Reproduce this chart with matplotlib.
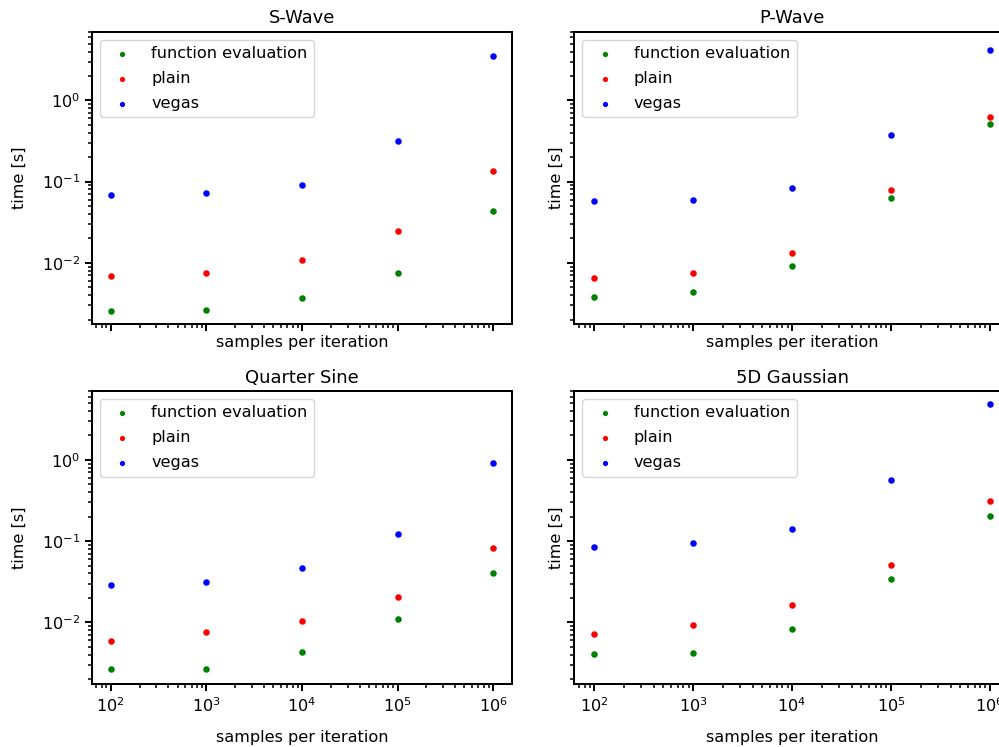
import numpy as np
import matplotlib
matplotlib.use('Agg')
import matplotlib.pyplot as plt

# samples per iteration
samples = [1e2, 1e3, 1e4, 1e5, 1e6]

titles = ['S-Wave', 'P-Wave', 'Quarter Sine', '5D Gaussian']

# time [s] per integrand
fe_swave = [0.00255, 0.00263, 0.0037, 0.00747, 0.043]
plain_swave = [0.0068, 0.0074, 0.0109, 0.0244, 0.134]
vegas_swave = [0.069, 0.073, 0.092, 0.32, 3.55]

fe_pwave = [0.00374, 0.00438, 0.0091, 0.0624, 0.51]
plain_pwave = [0.00646, 0.00743, 0.0131, 0.0782, 0.628]
vegas_pwave = [0.0569, 0.060, 0.0837, 0.377, 4.14]

fe_qsine = [0.00271, 0.00271, 0.0043, 0.0111, 0.041]
plain_qsine = [0.0059, 0.0076, 0.0103, 0.0208, 0.0828]
vegas_qsine = [0.0289, 0.0312, 0.0463, 0.124, 0.92]

fe_gauss = [0.00406, 0.00426, 0.00822, 0.0346, 0.206]
plain_gauss = [0.00726, 0.00927, 0.0163, 0.0508, 0.312]
vegas_gauss = [0.0853, 0.0936, 0.1415, 0.569, 4.81]

data = [
    (fe_swave, plain_swave, vegas_swave),
    (fe_pwave, plain_pwave, vegas_pwave),
    (fe_qsine, plain_qsine, vegas_qsine),
    (fe_gauss, plain_gauss, vegas_gauss),
]

plt.rcParams['font.size'] = 11.6
plt.rcParams['axes.linewidth'] = 1.45
plt.rcParams['xtick.major.size'] = 5.0
plt.rcParams['ytick.major.size'] = 5.0
plt.rcParams['xtick.minor.size'] = 3.0
plt.rcParams['ytick.minor.size'] = 3.0
plt.rcParams['xtick.major.width'] = 1.45
plt.rcParams['ytick.major.width'] = 1.45
plt.rcParams['xtick.minor.width'] = 1.1
plt.rcParams['ytick.minor.width'] = 1.1

fig, axs = plt.subplots(2, 2, sharex=True, sharey=True, figsize=(9.99, 7.47), dpi=100)

# positions in pixels (left, bottom-from-top, width, height)
W, H = 999, 747
boxes = [
    (91.7, 324.3, 420.6, 292.6),
    (574.3, 324.3, 435.5, 292.6),
    (91.7, 684.0, 420.6, 293.0),
    (574.3, 684.0, 435.5, 293.0),
]
xpads = [2.5, 2.5, 11, 11]
ypads = [10.5, 2.5, 10.5, 2.5]

for ax, title, (fe, plain, vegas), box, xp, yp in zip(axs.flat, titles, data, boxes, xpads, ypads):
    ax.scatter(samples, fe, s=22, c='green', linewidths=0, label='function evaluation')
    ax.scatter(samples, plain, s=22, c='red', linewidths=0, label='plain')
    ax.scatter(samples, vegas, s=22, c='blue', linewidths=0, label='vegas')
    ax.set_xscale('log')
    ax.set_yscale('log')
    ax.set_title(title, fontsize=12.9)
    ax.set_xlabel('samples per iteration', labelpad=xp)
    ax.set_ylabel('time [s]', labelpad=yp)
    ax.legend(loc='upper left', labelspacing=0.61, markerscale=0.8)
    l, b, w, h = box
    ax.set_position([l / W, 1 - b / H, w / W, h / H])

fig.savefig('out.png', dpi=100)
